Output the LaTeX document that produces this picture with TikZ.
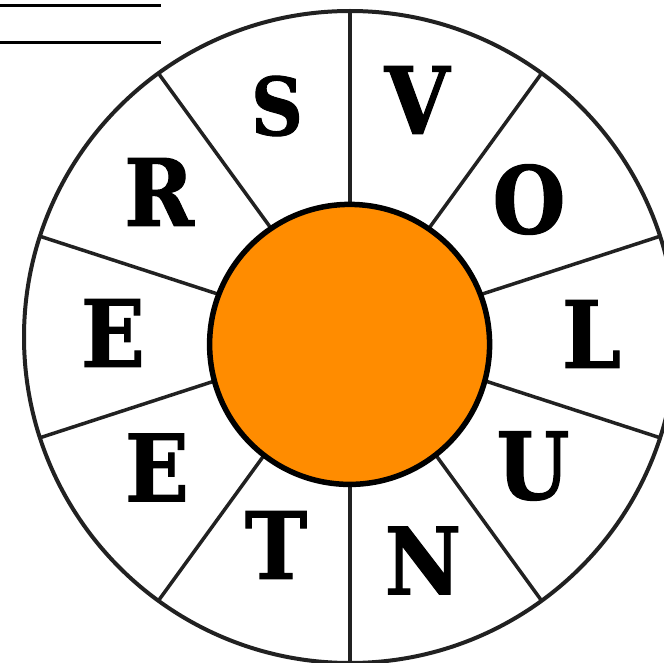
\documentclass[tikz,border=0pt]{standalone}
\usepackage{fontspec}
\usetikzlibrary{calc}
\newfontfamily\slabfont{DejaVu Serif Condensed}[BoldFont={* Bold},BoldFeatures={FakeBold=1.2}]
\begin{document}
\begin{tikzpicture}[x=1pt,y=-1pt,
  rim/.style={draw=black!87,line width=4pt},
  spoke/.style={draw=black!87,line width=3.5pt},
  hub/.style={draw=black,line width=5.5pt,fill={rgb,255:red,255;green,140;blue,0}},
  rule/.style={draw=black,line width=2.7pt},
  letter/.style={font=\slabfont\bfseries\fontsize{93}{93}\selectfont,inner sep=0pt,anchor=center}]
\useasboundingbox (0,0) rectangle (664,663);
\clip (0,0) rectangle (664,663);
\fill[white] (0,0) rectangle (664,663);
\coordinate (c) at (350,337);
\coordinate (h) at (349.6,344.4);
\draw[rim] (c) circle (326);
\foreach \a in {90,54,18,-18,-54,-90,-126,-162,162,126}
  \draw[spoke] (c) -- ++(\a:326);
\draw[hub] (h) circle (140);
\draw[rule] (0,5.3) -- (161,5.3);
\draw[rule] (0,42.3) -- (161,42.3);
\node[letter,font=\slabfont\bfseries\fontsize{80}{80}\selectfont] (s) at (277,106) {S};
\node[letter] (v) at (417,100) {V};
\node[letter] (o) at (529,199.5) {O};
\node[letter] (l) at (591.5,334) {L};
\node[letter] (u) at (533,466) {U};
\node[letter] (n) at (423,560.5) {N};
\node[letter] (t) at (276,545) {T};
\node[letter] (e2) at (157,467.5) {E};
\node[letter] (e1) at (113,333) {E};
\node[letter] (r) at (159,192) {R};
\end{tikzpicture}
\end{document}
